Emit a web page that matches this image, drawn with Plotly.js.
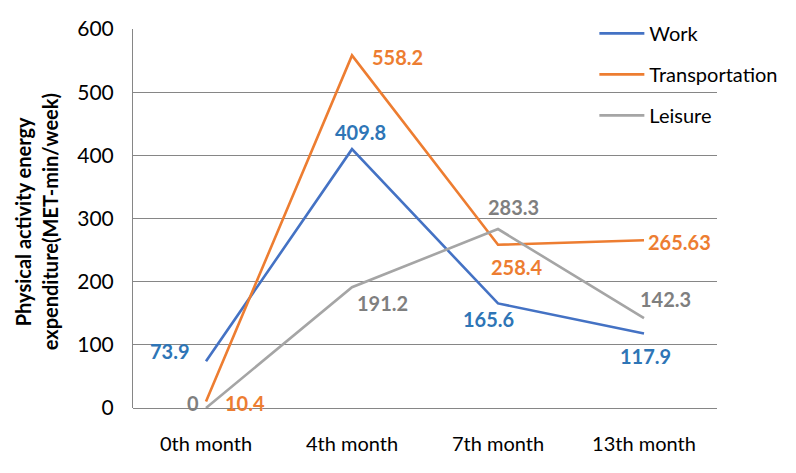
<!DOCTYPE html>
<html>
<head>
<meta charset="utf-8">
<script src="https://cdn.plot.ly/plotly-3.0.1.min.js"></script>
<style>
  html, body { margin: 0; padding: 0; background: #fff; }
  #plot { width: 796px; height: 473px; }
</style>
</head>
<body>
<div id="plot"></div>
<script>
    let months = ['0th month', '4th month', '7th month', '13th month'];
    let work = [73.9, 409.8, 165.6, 117.9];
    let transportation = [10.4, 558.2, 258.4, 265.63];
    let leisure = [0, 191.2, 283.3, 142.3];
    let workLabels = ['73.9', '409.8', '165.6', '117.9'];
    let transLabels = ['10.4', '558.2', '258.4', '265.63'];
    let leisureLabels = ['0', '191.2', '283.3', '142.3'];
    let yTitle = ['Physical activity energy', 'expenditure(MET-min/week)'];

    let font = 'Lato, "Open Sans", sans-serif';

    // label offsets in px from each point (dx right, dy up)
    let workShift = [[-36, 10], [8, 17], [-10, -16], [1, -22]];
    let transShift = [[39, -2], [45, -2], [19, -22], [35, -2]];
    let leisureShift = [[-13, 5], [30, -16], [15, 22], [21, 19]];

    function series(name, y, color) {
        return {
            type: 'scatter',
            mode: 'lines',
            name: name,
            x: months,
            y: y,
            line: { color: color, width: 2.6 },
            legendgroup: name,
            cliponaxis: false,
            hoverinfo: 'x+y'
        };
    }

    function labels(y, text, shift, color) {
        return y.map((v, i) => ({
            x: months[i],
            y: v,
            text: text[i],
            showarrow: false,
            xanchor: 'center',
            yanchor: 'middle',
            xshift: shift[i][0],
            yshift: shift[i][1],
            font: { family: font, size: 20, color: color, weight: 'bold' }
        }));
    }

    let traces = [
        series('Work', work, '#4472C4'),
        series('Transportation', transportation, '#ED7D31'),
        series('Leisure', leisure, '#A5A5A5')
    ];

    // two-line y title, each line placed on its own
    let titleLines = yTitle.map((t, i) => ({
        xref: 'paper', yref: 'paper',
        x: 0, y: 0.49,
        xshift: [-124, -97][i],
        text: t,
        textangle: -90,
        showarrow: false,
        font: { family: font, size: 20, color: '#000', weight: 'bold' }
    }));

    let annotations = [].concat(
        labels(work, workLabels, workShift, '#2E75B6'),
        labels(transportation, transLabels, transShift, '#ED7D31'),
        labels(leisure, leisureLabels, leisureShift, '#7F7F7F'),
        titleLines
    );

    let layout = {
        width: 796,
        height: 473,
        margin: { l: 133, r: 79, t: 29, b: 65 },
        paper_bgcolor: '#fff',
        plot_bgcolor: '#fff',
        font: { family: font, size: 20, color: '#000' },
        showlegend: true,
        legend: {
            x: 0.79, y: 1.04, xanchor: 'left', yanchor: 'top',
            bgcolor: 'rgba(0,0,0,0)',
            font: { family: font, size: 20, color: '#000' },
            traceorder: 'grouped',
            tracegroupgap: 12,
            itemwidth: 45
        },
        xaxis: {
            type: 'category',
            range: [-0.5, 3.5],
            showgrid: false,
            showline: false,
            zeroline: false,
            ticks: '',
            ticklabelstandoff: 22,
            tickfont: { family: font, size: 20 },
            fixedrange: true
        },
        yaxis: {
            range: [0, 600],
            dtick: 100,
            showgrid: true,
            gridcolor: '#868686',
            gridwidth: 1,
            showline: true,
            linecolor: '#868686',
            zeroline: true,
            zerolinecolor: '#868686',
            ticks: '',
            ticklabelstandoff: 14,
            tickfont: { family: font, size: 21 },
            fixedrange: true
        },
        annotations: annotations
    };

    Plotly.newPlot('plot', traces, layout, { displayModeBar: false, staticPlot: true });
</script>
</body>
</html>
